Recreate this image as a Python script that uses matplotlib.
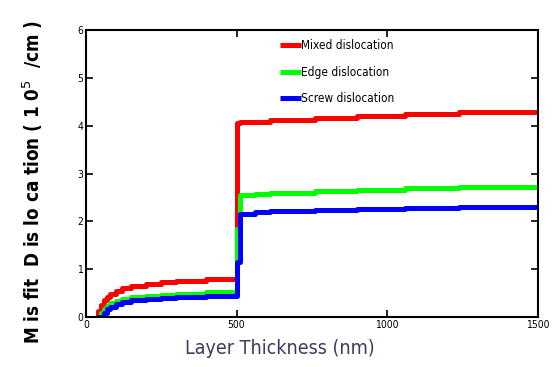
import numpy as np
import matplotlib
matplotlib.use('Agg')
import matplotlib.pyplot as plt

# thickness (nm) and misfit dislocation density (10^5 /cm)
x_low = [35, 40, 50, 60, 70, 80, 100, 120, 150, 200, 250, 300, 400, 500]
red_low = [0.0, 0.12, 0.25, 0.35, 0.42, 0.48, 0.55, 0.6, 0.65, 0.7, 0.73, 0.76, 0.8, 0.82]
green_low = [0.0, 0.0, 0.08, 0.17, 0.24, 0.29, 0.34, 0.38, 0.42, 0.45, 0.47, 0.49, 0.52, 0.55]
blue_low = [0.0, 0.0, 0.0, 0.08, 0.16, 0.22, 0.27, 0.31, 0.35, 0.38, 0.4, 0.42, 0.44, 0.46]

x_high = [500, 510, 560, 610, 760, 900, 1060, 1240, 1500]
red_high = [4.05, 4.07, 4.08, 4.12, 4.17, 4.2, 4.25, 4.29, 4.3]
green_high = [1.85, 2.55, 2.58, 2.6, 2.63, 2.66, 2.69, 2.71, 2.72]
blue_high = [1.15, 2.15, 2.19, 2.21, 2.24, 2.27, 2.29, 2.3, 2.3]

labels = ['Mixed dislocation', 'Edge dislocation', 'Screw dislocation']
colors = ['#ff0000', '#00ff00', '#0000ff']

fig = plt.figure(figsize=(5.53, 3.67), dpi=100)
ax = fig.add_axes([0.1555, 0.136, 0.817, 0.782])

series = [(red_low, red_high), (green_low, green_high), (blue_low, blue_high)]
for (lo, hi), c, lab in zip(series, colors, labels):
    xs = x_low + x_high
    ys = lo + hi
    ax.plot(xs, ys, color=c, lw=3.6, drawstyle='steps-post', label=lab,
            solid_capstyle='butt')

ax.set_xlim(0, 1500)
ax.set_ylim(0, 6)
ax.set_xticks([0, 500, 1000, 1500])
ax.set_yticks([0, 1, 2, 3, 4, 5, 6])
ax.tick_params(direction='in', top=True, right=True, length=5, width=1.2, pad=2,
               labelsize=7.5)
for lab in ax.get_xticklabels() + ax.get_yticklabels():
    lab.set_fontstretch('condensed')
for s in ax.spines.values():
    s.set_linewidth(1.5)

ax.set_xlabel('Layer Thickness (nm)', fontsize=14, fontstretch='condensed',
              color='#3c3c5c')
ax.xaxis.set_label_coords(0.43, -0.075)
ax.set_ylabel('M is fit  D is lo ca tion ( 1 0$^5$  /cm )', fontsize=13.5,
              fontstretch='condensed', fontweight='bold')
ax.yaxis.set_label_coords(-0.09, 0.47)

leg = ax.legend(loc='upper left', bbox_to_anchor=(0.405, 1.005), frameon=False,
                handlelength=1.8, handletextpad=0.0, labelspacing=1.15,
                prop={'size': 8.5, 'stretch': 'condensed'})

fig.savefig('out.png', dpi=100)
